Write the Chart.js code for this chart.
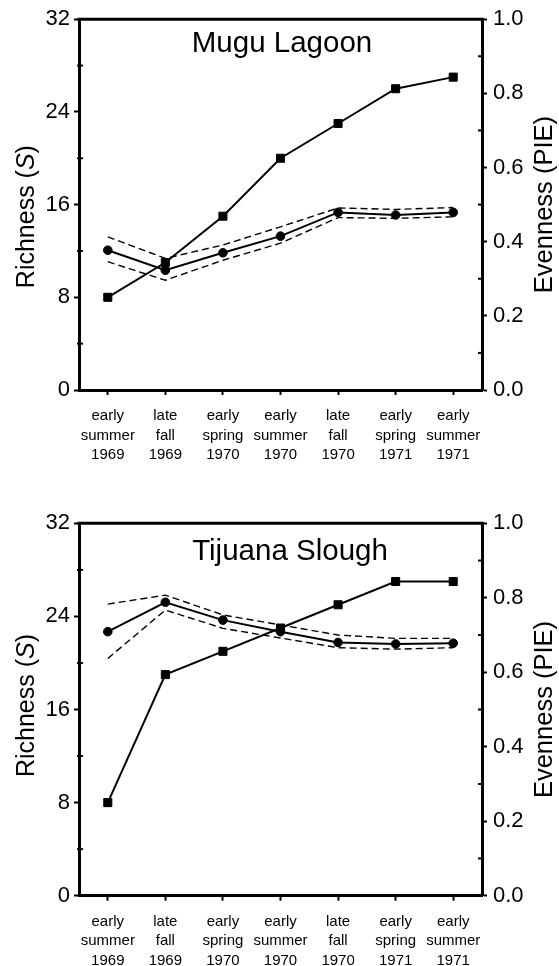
<!DOCTYPE html>
<html>
<head>
<meta charset="utf-8">
<script src="https://cdn.jsdelivr.net/npm/chart.js@4.4.1/dist/chart.umd.min.js"></script>
<style>
  body { margin: 0; background: #fff; }
  canvas { display: block; }
</style>
</head>
<body>
<canvas id="mugu" width="559" height="480"></canvas>
<canvas id="tijuana" width="559" height="486"></canvas>
<script>
const seasons = [
  ["early", "summer", "1969"],
  ["late", "fall", "1969"],
  ["early", "spring", "1970"],
  ["early", "summer", "1970"],
  ["late", "fall", "1970"],
  ["early", "spring", "1971"],
  ["early", "summer", "1971"],
];

// Mugu Lagoon
const muguRichness = [8, 11, 15, 20, 23, 26, 27];
const muguEvenness = [0.377, 0.323, 0.370, 0.415, 0.479, 0.472, 0.479];
const muguEvenHigh = [0.413, 0.355, 0.391, 0.44, 0.491, 0.487, 0.492];
const muguEvenLow = [0.346, 0.296, 0.350, 0.396, 0.465, 0.463, 0.467];

// Tijuana Slough
const tijuanaRichness = [8, 19, 21, 23, 25, 27, 27];
const tijuanaEvenness = [0.709, 0.788, 0.740, 0.709, 0.680, 0.676, 0.678];
const tijuanaEvenHigh = [0.783, 0.807, 0.754, 0.727, 0.700, 0.691, 0.691];
const tijuanaEvenLow = [0.637, 0.767, 0.718, 0.692, 0.666, 0.662, 0.666];

const FONT = "'Liberation Sans', Arial, Helvetica, sans-serif";

// labelled ticks get an outward mark from chart.js, the others a short mark across the axis
const isMinorS = (v) => v % 8 !== 0;
const isMinorE = (v) => Math.round(v * 10) % 2 !== 0;

// top border, minor ticks, panel title and the two rotated axis titles
const frame = {
  id: "frame",
  afterDraw(chart, args, opts) {
    const { ctx, chartArea: a, scales } = chart;
    ctx.save();
    ctx.strokeStyle = "#000";
    ctx.lineWidth = 3;
    ctx.beginPath();
    ctx.moveTo(a.left - 1.5, a.top);
    ctx.lineTo(a.right + 1.5, a.top);
    ctx.stroke();

    ctx.lineWidth = 2;
    scales.y.ticks.forEach((t) => {
      if (!isMinorS(t.value)) return;
      const py = scales.y.getPixelForValue(t.value);
      ctx.beginPath();
      ctx.moveTo(a.left - 2, py);
      ctx.lineTo(a.left + 4, py);
      ctx.stroke();
    });
    scales.y1.ticks.forEach((t) => {
      if (!isMinorE(t.value)) return;
      const py = scales.y1.getPixelForValue(t.value);
      ctx.beginPath();
      ctx.moveTo(a.right - 4, py);
      ctx.lineTo(a.right + 2, py);
      ctx.stroke();
    });

    ctx.fillStyle = "#000";
    ctx.textAlign = "center";
    ctx.textBaseline = "alphabetic";
    ctx.font = "29.5px " + FONT;
    ctx.fillText(opts.title, opts.titleX, a.top + opts.titleDy);

    // left: Richness (S) with italic S
    const midY = (a.top + a.bottom) / 2;
    ctx.save();
    ctx.translate(27, midY + opts.leftDy);
    ctx.rotate(-Math.PI / 2);
    ctx.textAlign = "left";
    ctx.textBaseline = "middle";
    const parts = [["Richness (", ""], ["S", "italic "], [")", ""]];
    let total = 0;
    parts.forEach(([t, st]) => { ctx.font = st + "25px " + FONT; total += ctx.measureText(t).width; });
    let x = -total / 2;
    parts.forEach(([t, st]) => {
      ctx.font = st + "25px " + FONT;
      ctx.fillText(t, x, 0);
      x += ctx.measureText(t).width;
    });
    ctx.restore();

    // right: Evenness (PIE)
    ctx.save();
    ctx.translate(545, midY);
    ctx.rotate(-Math.PI / 2);
    ctx.textAlign = "center";
    ctx.textBaseline = "middle";
    ctx.font = "25.5px " + FONT;
    ctx.fillText("Evenness (PIE)", 0, 0);
    ctx.restore();
    ctx.restore();
  },
};

function tickGrid(minor) {
  return {
    drawOnChartArea: false,
    drawTicks: true,
    tickLength: 5,
    tickWidth: 2,
    tickColor: (c) => (c.tick && minor(c.tick.value) ? "rgba(0,0,0,0)" : "#000"),
    offset: false,
  };
}

function makeChart(id, title, richness, even, hi, lo, box) {
  return new Chart(document.getElementById(id), {
    type: "line",
    data: {
      labels: seasons,
      datasets: [
        {
          label: "Richness",
          data: richness,
          yAxisID: "y",
          borderColor: "#000",
          backgroundColor: "#000",
          borderWidth: 2,
          pointStyle: "rect",
          pointRadius: 5.7,
          pointBorderWidth: 1,
          tension: 0,
        },
        {
          label: "Evenness",
          data: even,
          yAxisID: "y1",
          borderColor: "#000",
          backgroundColor: "#000",
          borderWidth: 2,
          pointStyle: "circle",
          pointRadius: 4.3,
          pointBorderWidth: 1,
          tension: 0,
        },
        {
          label: "upper",
          data: hi,
          yAxisID: "y1",
          borderColor: "#000",
          borderWidth: 1.4,
          borderDash: [7, 4],
          pointRadius: 0,
          tension: 0,
        },
        {
          label: "lower",
          data: lo,
          yAxisID: "y1",
          borderColor: "#000",
          borderWidth: 1.4,
          borderDash: [7, 4],
          pointRadius: 0,
          tension: 0,
        },
      ],
    },
    options: {
      responsive: false,
      animation: false,
      layout: { padding: { top: box.top, left: 0, right: 0, bottom: 0 } },
      plugins: {
        legend: { display: false },
        tooltip: { enabled: false },
        frame: { title: title, titleX: box.titleX, titleDy: box.titleDy, leftDy: box.leftDy },
      },
      scales: {
        x: {
          type: "category",
          offset: true,
          grid: tickGrid(() => false),
          border: { display: true, width: 3, color: "#000" },
          ticks: {
            color: "#000",
            font: { family: FONT, size: 15, lineHeight: 1.31 },
            padding: 11,
            maxRotation: 0,
            autoSkip: false,
          },
          afterFit(s) { s.height = box.xHeight; },
        },
        y: {
          position: "left",
          min: 0,
          max: 32,
          grid: tickGrid(isMinorS),
          border: { display: true, width: 3, color: "#000" },
          ticks: {
            stepSize: 4,
            color: "#000",
            font: { family: FONT, size: 22 },
            padding: 4,
            callback: (v) => (isMinorS(v) ? "" : v),
          },
          afterFit(s) { s.width = 79; },
        },
        y1: {
          position: "right",
          min: 0,
          max: 1,
          grid: tickGrid(isMinorE),
          border: { display: true, width: 3, color: "#000" },
          ticks: {
            stepSize: 0.1,
            color: "#000",
            font: { family: FONT, size: 22 },
            padding: 6,
            callback: (v) => (isMinorE(v) ? "" : v.toFixed(1)),
          },
          afterFit(s) { s.width = 77; },
        },
      },
    },
    plugins: [frame],
  });
}

makeChart("mugu", "Mugu Lagoon", muguRichness, muguEvenness, muguEvenHigh, muguEvenLow,
  { top: 19, xHeight: 90, titleX: 282, titleDy: 32.7, leftDy: 12 });
makeChart("tijuana", "Tijuana Slough", tijuanaRichness, tijuanaEvenness, tijuanaEvenHigh, tijuanaEvenLow,
  { top: 43.3, xHeight: 70.3, titleX: 290, titleDy: 36.7, leftDy: -4 });
</script>
</body>
</html>
